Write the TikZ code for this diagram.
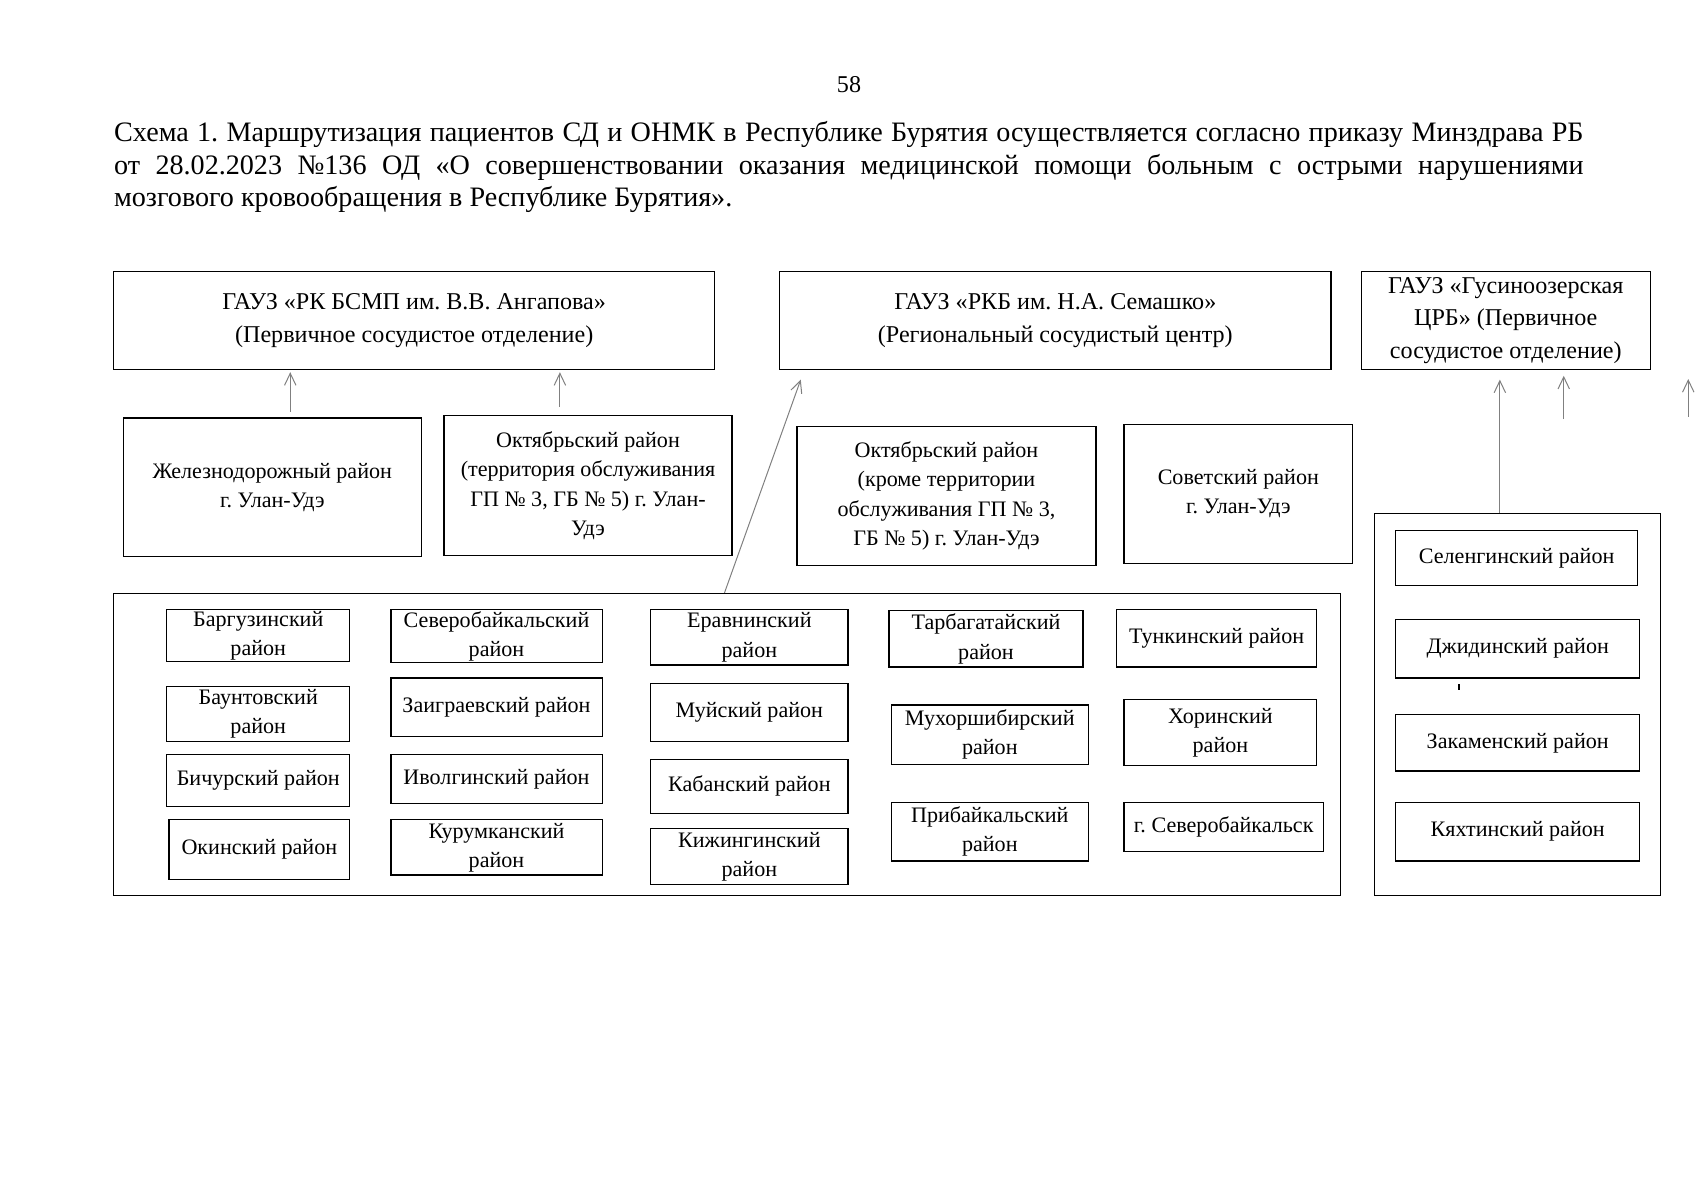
\documentclass[tikz,border=0pt]{standalone}
\usepackage{fontspec}
\setmainfont{Liberation Serif}
\usetikzlibrary{arrows.meta}
\frenchspacing

\begin{document}
\begin{tikzpicture}[x=0.18941mm,y=-0.18941mm,>={Straight Barb[length=2.1mm,width=2mm]},
  main node/.style={draw,line width=0.6pt,inner sep=0pt,align=center,font=\fontsize{12}{16.1}\selectfont},
  district node/.style={main node,font=\fontsize{11}{14.5}\selectfont},
  frame node/.style={draw,line width=0.6pt,inner sep=0pt},
  box size/.style 2 args={minimum width=#1*0.18941mm,minimum height=#2*0.18941mm},
  route/.style={->,gray,line width=0.5pt}]
  \useasboundingbox (0,0) rectangle (1568,1108);

  % page number and caption
  \node (page) at (784,78) {\fontsize{12}{14}\selectfont 58};
  \node[anchor=north west,inner sep=0pt,text width=1357*0.18941mm,align=justify,
        font=\fontsize{14}{16.1}\selectfont] (title) at (105,112)
    {Схема 1. Маршрутизация пациентов СД и ОНМК в Республике Бурятия осуществляется согласно приказу Минздрава РБ\linebreak
     от 28.02.2023 №136 ОД «О совершенствовании оказания медицинской помощи больным с острыми нарушениями\linebreak
     мозгового кровообращения в Республике Бурятия».};

  % hospitals
  \node[main node,box size={555}{90}] (a1) at (382.5,296) {ГАУЗ «РК БСМП им. В.В. Ангапова»\\(Первичное сосудистое отделение)};
  \node[main node,box size={509}{90}] (a2) at (974.5,296) {ГАУЗ «РКБ им. Н.А. Семашко»\\(Региональный сосудистый центр)};
  \node[main node,box size={267}{90}] (a3) at (1390.5,296) {ГАУЗ «Гусиноозерская\\ЦРБ» (Первичное\\сосудистое отделение)};

  % city districts
  \node[district node,box size={275}{128}] (b1) at (251.5,450) {Железнодорожный район\\г. Улан-Удэ};
  \node[district node,box size={266}{129}] (b2) at (543,448.5) {Октябрьский район\\(территория обслуживания\\ГП № 3, ГБ № 5) г. Улан-\\Удэ};
  \node[district node,box size={276}{128}] (b3) at (874,458) {Октябрьский район\\(кроме территории\\обслуживания ГП № 3,\\ГБ № 5) г. Улан-Удэ};
  \node[district node,box size={211}{128}] (b4) at (1143.5,456) {Советский район\\г. Улан-Удэ};

  % frames
  \node[frame node,box size={1133}{279}] (c) at (671.5,687.5) {};
  \node[frame node,box size={264}{353}] (d) at (1401,650.5) {};

  % regions
  \node[district node,box size={169}{48}] (c1) at (238.5,587) {Баргузинский\\район};
  \node[district node,box size={169}{51}] (c2) at (238.5,659.5) {Баунтовский\\район};
  \node[district node,box size={169}{48}] (c3) at (238.5,721) {Бичурский район};
  \node[district node,box size={167}{55}] (c4) at (239.5,784.5) {Окинский район};

  \node[district node,box size={195}{49}] (c5) at (458.5,587.5) {Северобайкальский\\район};
  \node[district node,box size={195}{54}] (c6) at (458.5,653) {Заиграевский район};
  \node[district node,box size={195}{45}] (c7) at (458.5,719.5) {Иволгинский район};
  \node[district node,box size={195}{51}] (c8) at (458.5,782.5) {Курумканский\\район};

  \node[district node,box size={182}{51}] (c9) at (692,588.5) {Еравнинский\\район};
  \node[district node,box size={182}{54}] (c10) at (692,658) {Муйский район};
  \node[district node,box size={182}{50}] (c11) at (692,726) {Кабанский район};
  \node[district node,box size={182}{52}] (c12) at (692,791) {Кижингинский\\район};

  \node[district node,box size={179}{52}] (c13) at (910.5,590) {Тарбагатайский\\район};
  \node[district node,box size={182}{55}] (c14) at (914,678.5) {Мухоршибирский\\район};
  \node[district node,box size={182}{54}] (c15) at (914,768) {Прибайкальский\\район};

  \node[district node,box size={185}{53}] (c16) at (1123.5,589.5) {Тункинский район};
  \node[district node,box size={178}{61}] (c17) at (1127,676.5) {Хоринский\\район};
  \node[district node,box size={184}{45}] (c18) at (1130,763.5) {г. Северобайкальск};

  \node[district node,box size={223}{51}] (d1) at (1400.5,515.5) {Селенгинский район};
  \node[district node,box size={225}{54}] (d2) at (1401.5,599) {Джидинский район};
  \node[district node,box size={225}{52}] (d3) at (1401.5,686) {Закаменский район};
  \node[district node,box size={225}{54}] (d4) at (1401.5,768) {Кяхтинский район};
  \fill (1346.5,632) rectangle (1348,637);

  \coordinate (e1) at (1444,387);
  \coordinate (e2) at (1444,347);
  \coordinate (f1) at (1559,385);
  \coordinate (f2) at (1559,350);

  % routes
  \draw[route,shorten <=0.95mm,shorten >=0.4mm] ([xshift=3.13mm]b1.north) -- ([xshift=3.13mm]b1.north |- a1.south);
  \draw[route,shorten <=1.5mm,shorten >=0.4mm] ([xshift=-4.92mm]b2.north) -- ([xshift=-4.92mm]b2.north |- a2.south);
  \draw[route] ([xshift=-0.47mm]c.north) -- ([xshift=3.79mm,yshift=-1.7mm]a2.south west);
  \draw[route,shorten >=1.7mm] ([xshift=-3.03mm]d.north) -- ([xshift=-3.03mm]d.north |- a3.south);
  \draw[route] (e1) -- (e2);
  \draw[route] (f1) -- (f2);
\end{tikzpicture}
\end{document}
